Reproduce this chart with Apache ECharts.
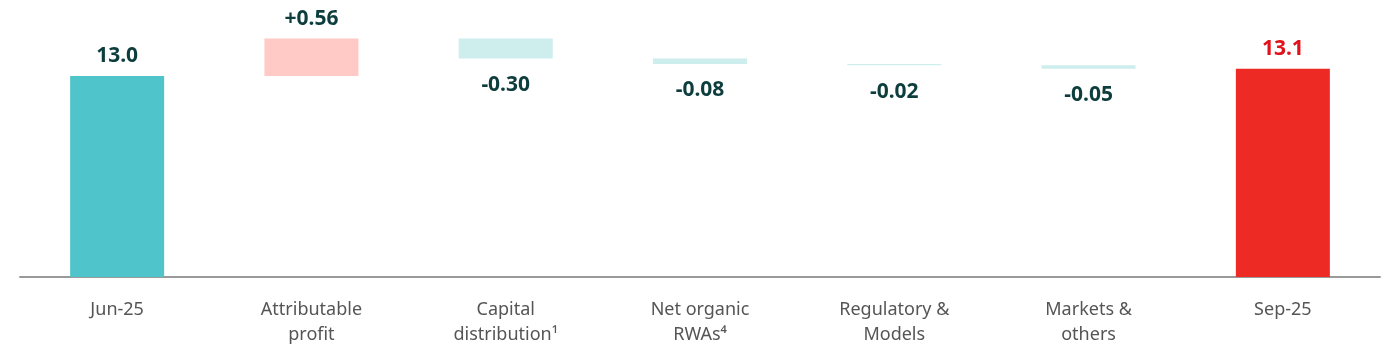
<!DOCTYPE html>
<html><head><meta charset="utf-8">
<script src="https://cdn.jsdelivr.net/npm/echarts@6/dist/echarts.min.js"></script>
<style>html,body{margin:0;padding:0;background:#fff}#c{width:1400px;height:362px}</style>
</head><body><div id="c"></div>
<script>
const categories = ['Jun-25', 'Attributable\nprofit', 'Capital\ndistribution¹', 'Net organic\nRWAs⁴', 'Regulatory &\nModels', 'Markets &\nothers', 'Sep-25'];
const values = [13.0, 0.56, -0.30, -0.08, -0.02, -0.05, 13.11];
const labels = ['13.0', '+0.56', '-0.30', '-0.08', '-0.02', '-0.05', '13.1'];
const kinds = ['total', 'delta', 'delta', 'delta', 'delta', 'delta', 'total'];

const baseData = [], barData = [];
let running = 0;
values.forEach((v, i) => {
  if (kinds[i] === 'total') {
    baseData.push(0);
    const red = i === values.length - 1;
    barData.push({value: v, itemStyle: {color: red ? '#ee2a24' : '#4fc4ca'},
      label: {position: 'top', distance: 9, color: red ? '#e0121b' : '#0e3d3d'}});
    running = v;
  } else {
    const lo = v >= 0 ? running : running + v;
    baseData.push(lo);
    barData.push({value: Math.abs(v), itemStyle: {color: v >= 0 ? '#ffc9c5' : '#ceeded'},
      label: {position: v >= 0 ? 'top' : 'bottom', distance: v >= 0 ? 9 : 16, color: '#0e3d3d'}});
    running += v;
  }
});

const chart = echarts.init(document.getElementById('c'));
chart.setOption({
  animation: false,
  grid: {left: 20, right: 20, top: 9, bottom: 85},
  xAxis: {type: 'category', data: categories,
    axisLine: {lineStyle: {color: '#9a9a9a', width: 2}},
    axisTick: {show: false},
    axisLabel: {interval: 0, margin: 20, fontSize: 18, lineHeight: 25, color: '#555', fontFamily: 'Noto Sans'}},
  yAxis: {type: 'value', min: 10, max: 14, show: false, splitLine: {show: false}},
  series: [
    {type: 'bar', stack: 'w', data: baseData, itemStyle: {color: 'transparent'}, barWidth: 94, silent: true},
    {type: 'bar', stack: 'w', data: barData, barWidth: 94,
      label: {show: true, fontSize: 21, fontWeight: 'bold', fontFamily: 'Noto Sans',
        formatter: p => labels[p.dataIndex]}}
  ]
});
</script></body></html>
